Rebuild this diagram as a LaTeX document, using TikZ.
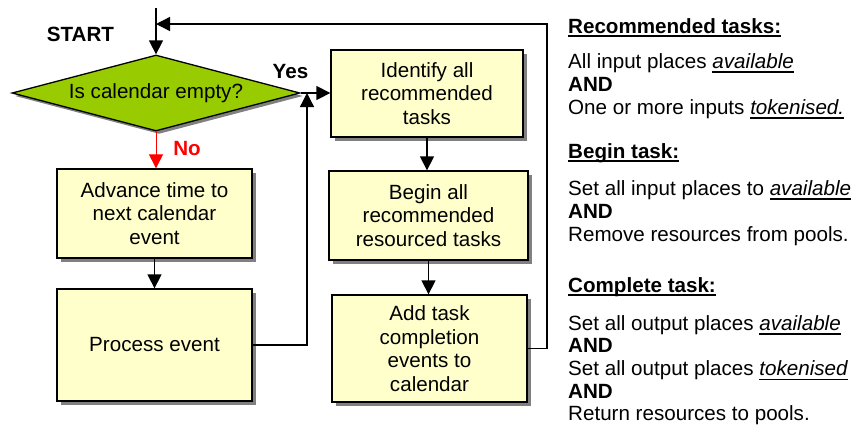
\documentclass[tikz,border=0pt]{standalone}
\usepackage{fontspec}
\setmainfont{Liberation Sans}
\usetikzlibrary{shapes.geometric,shadows,arrows.meta}
\definecolor{boxfill}{HTML}{FFFFCC}
\definecolor{decfill}{HTML}{99CC00}
\definecolor{shade}{HTML}{808080}
\definecolor{noline}{HTML}{FF0000}
% underlines drawn as rules of fixed depth, independent of descenders
\newcommand\ulhead[1]{\setbox0\hbox{#1}\rlap{\rule[-3.6pt]{\wd0}{1.7pt}}\box0}
\newcommand\ulword[1]{\setbox0\hbox{#1}\rlap{\rule[-4.6pt]{\wd0}{1.3pt}}\box0}
\begin{document}
\begin{tikzpicture}[x=1pt,y=-1pt,
  txt/.style={font=\fontsize{20.6}{23.5}\selectfont},
  boldtxt/.style={font=\fontsize{20.6}{23.5}\selectfont\bfseries},
  stepbox/.style={draw=black, line width=1.3pt, fill=boxfill, align=center,
    inner sep=0pt, txt,
    drop shadow={shadow xshift=4pt, shadow yshift=-4pt, fill=shade, opacity=1}},
  decision/.style={diamond, aspect=3.79, draw=black, line width=1.3pt, fill=decfill,
    inner sep=0pt, minimum width=288pt, minimum height=76pt, txt,
    drop shadow={shadow xshift=3pt, shadow yshift=-3pt, fill=shade, opacity=1}},
  flow/.style={line width=1.3pt, -{Triangle[length=14pt,width=14pt]}},
  note/.style={anchor=base west, inner sep=0pt, txt},
  notehead/.style={anchor=base west, inner sep=0pt, boldtxt},
  tag/.style={inner sep=0pt, boldtxt}
]
\useasboundingbox (0,0) rectangle (853,424);

% flowchart nodes
\node[decision] (D) at (156,93) {Is calendar empty?};
\node[stepbox, minimum width=195pt, minimum height=89pt] (Adv) at (154.5,213.5)
  {Advance time to\\next calendar\\event};
\node[stepbox, minimum width=195pt, minimum height=112pt] (Proc) at (154.5,345)
  {Process event};
\node[stepbox, minimum width=192pt, minimum height=87pt] (Ident) at (427,93.5)
  {Identify all\\recommended\\tasks};
\node[stepbox, minimum width=199pt, minimum height=89pt] (Begin) at (428.5,215.5)
  {Begin all\\recommended\\resourced tasks};
\node[stepbox, minimum width=195pt, minimum height=107pt] (Add) at (429.5,348.5)
  {Add task\\completion\\events to\\calendar};

% labels
\node[tag] (startlbl) at (80.5,34) {START};
\node[tag] (yeslbl) at (290.5,71.5) {Yes};
\node[tag, text=noline] (nolbl) at (187,149) {No};

% connectors
\coordinate (entry) at (156,8);
\coordinate (loop) at (547,24);
\coordinate (merge) at (307,93);
\draw[flow] (entry) -- (D.north);
\draw[flow, draw=noline, fill=noline, line width=1pt] (D.south) -- (D.south |- Adv.north);
\draw[flow] (Adv.south) -- (Proc.north);
\draw[flow] (D.east) -- (D.east -| Ident.west);
\draw[flow] (Ident.south) -- (Ident.south |- Begin.north);
\draw[flow] (Begin.south) -- (Begin.south |- Add.north);
\draw[flow] (Add.east) -| (loop) -- (loop -| entry);
\draw[flow] (Proc.east) -| (merge);

% rules for the task stages
\node[notehead] (h1) at (568,33) {\ulhead{Recommended tasks:}};
\node[note] (r1) at (568,68) {All input places \ulword{\itshape available}};
\node[notehead] (r2) at (568,91) {AND};
\node[note] (r3) at (568,114) {One or more inputs \ulword{\itshape tokenised.}};

\node[notehead] (h2) at (568,158) {\ulhead{Begin task:}};
\node[note] (b1) at (568,195) {Set all input places to \ulword{\itshape available}};
\node[notehead] (b2) at (568,218) {AND};
\node[note] (b3) at (568,241) {Remove resources from pools.};

\node[notehead] (h3) at (568,292) {\ulhead{Complete task:}};
\node[note] (c1) at (568,330) {Set all output places \ulword{\itshape available}};
\node[notehead] (c2) at (568,352.5) {AND};
\node[note] (c3) at (568,375.5) {Set all output places \ulword{\itshape tokenised}};
\node[notehead] (c4) at (568,398) {AND};
\node[note] (c5) at (568,420.5) {Return resources to pools.};
\end{tikzpicture}
\end{document}
